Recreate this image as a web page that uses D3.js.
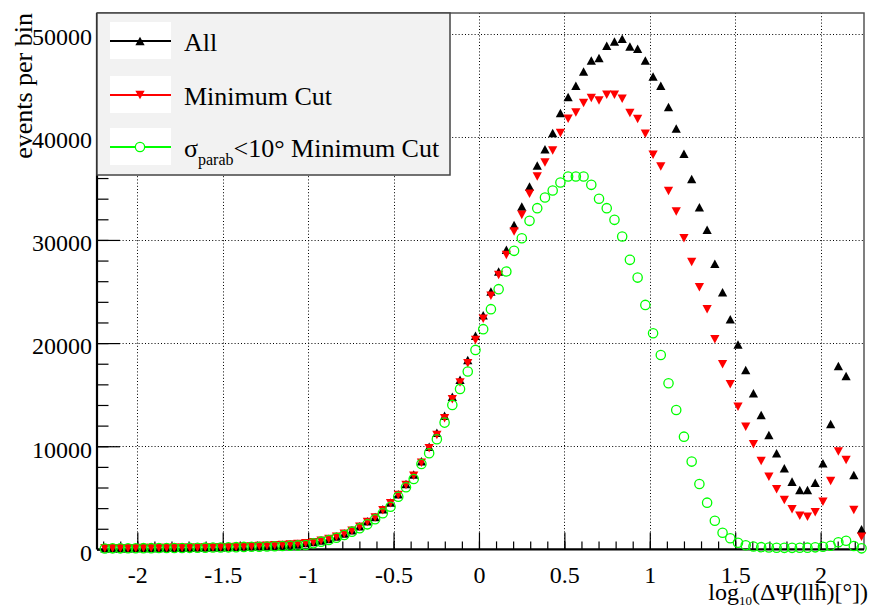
<!DOCTYPE html>
<html>
<head>
<meta charset="utf-8">
<script src="https://cdn.jsdelivr.net/npm/d3@7"></script>
<style>
  body { margin: 0; background: #fff; }
  svg { display: block; }
  text { font-family: "Liberation Serif", "Times New Roman", serif; fill: #000; }
</style>
</head>
<body>
<svg id="chart" width="870" height="607"></svg>
<script>
// Histogram binning of log10(ΔΨ) : first bin centre and bin width
const binFirst = -2.19;
const binWidth = 0.0452;

// events per bin, all events
const allEvents = [
  100, 110, 120, 120, 130, 130, 140, 140, 150, 150,
  160, 170, 180, 190, 200, 210, 230, 250, 270, 300,
  330, 360, 400, 440, 490, 540,
  610, 720, 860, 1020, 1260, 1550, 1850, 2250, 2720, 3150, 3900, 4550, 5350, 6350,
  7250, 8550, 9950, 11300, 12950, 14800, 16450, 18350, 20700,
  22700, 25000, 26940, 29040, 31460, 33240, 35180, 37220, 38800, 40360,
  42300, 43850, 44950, 46330, 47400, 47630, 48830, 49240, 49500, 48760,
  48540, 47400, 45850, 44950, 42880, 40800,
  38350, 35900, 33180, 30980, 27680, 24940, 22320, 19860, 17400, 15140,
  13040, 11100, 9320, 7870, 6570, 5760, 5760, 6470, 8350, 12160,
  17790, 16820, 7220, 1950
];

// events per bin after the minimum cut
const minimumCut = [
  100, 110, 110, 120, 120, 130, 130, 140, 140, 150,
  150, 160, 170, 180, 190, 200, 220, 240, 260, 290,
  320, 350, 390, 430, 480, 530,
  600, 700, 840, 1000, 1230, 1520, 1810, 2200, 2650, 3100, 3800, 4470, 5280, 6250,
  7150, 8410, 9810, 11100, 12720, 14560, 16170, 18050, 20300,
  22350, 24580, 26610, 28550, 30820, 32430, 34470, 36150, 37510, 38670,
  40360, 41750, 42360, 43270, 43750, 43520, 44070, 44070, 43690, 42300,
  41720, 40290, 38250, 37120, 34750, 32760,
  30170, 27850, 25420, 23290, 20380, 17950, 16010, 13840, 11900, 10190,
  8570, 7050, 5830, 4790, 3890, 3270, 3170, 3600, 4630, 6630,
  9480, 8670, 3820, 1230
];

// events per bin, sigma_parab < 10 deg and minimum cut
const parabCut = [
  90, 100, 100, 110, 110, 120, 120, 130, 130, 140,
  140, 150, 160, 170, 180, 190, 200, 220, 240, 260,
  260, 280, 300, 330, 360, 390,
  430, 590, 750, 910, 1130, 1400, 1720, 2050, 2430, 2920, 3500, 4140, 5110, 6020,
  6830, 8280, 9320, 10680, 12290, 14010, 15560, 17240, 19340,
  21350, 23290, 25230, 26940, 28940, 30170, 31850, 33080, 34110, 34790,
  35570, 36150, 36150, 36150, 35340, 33990, 33080, 31950, 30330, 28070,
  26350, 23700, 20960,
  18850, 16110, 13520, 10930, 8510, 6340, 4530, 2780, 1620, 1080,
  650, 400, 280, 220, 180, 160, 150, 150, 160, 170,
  200, 250, 350, 700, 840, 330, 100
];

const xMajorTicks = [-2, -1.5, -1, -0.5, 0, 0.5, 1, 1.5, 2];
const xTickLabels = ["-2", "-1.5", "-1", "-0.5", "0", "0.5", "1", "1.5", "2"];
const yMajorTicks = [0, 10000, 20000, 30000, 40000, 50000];
const yTickLabels = ["0", "10000", "20000", "30000", "40000", "50000"];
const legendLabels = ["All", "Minimum Cut", "σparab<10° Minimum Cut"];

const svg = d3.select("#chart");
const frame = { left: 97, right: 864, top: 13, bottom: 549.4 };

const x = d3.scaleLinear().domain([-2.236, 2.254]).range([frame.left, frame.right]);
const y = d3.scaleLinear().domain([0, 52000]).range([frame.bottom, frame.top]);

// minor tick positions: 5 divisions per major interval
const xMinor = d3.range(-22, 23).map(i => i / 10).filter(v => v >= -2.236 && v <= 2.254);
const yMinor = d3.range(0, 27).map(i => i * 2000);

// grid
const grid = svg.append("g").attr("stroke", "#000").attr("stroke-width", 1)
  .attr("stroke-dasharray", "1,2.2").attr("fill", "none");
grid.selectAll("line.gx").data(xMajorTicks).join("line")
  .attr("x1", d => Math.round(x(d)) + 0.5).attr("x2", d => Math.round(x(d)) + 0.5)
  .attr("y1", frame.top).attr("y2", frame.bottom);
grid.selectAll("line.gy").data(yMajorTicks.filter(d => d > 0)).join("line")
  .attr("y1", d => Math.round(y(d)) + 0.5).attr("y2", d => Math.round(y(d)) + 0.5)
  .attr("x1", frame.left).attr("x2", frame.right);

// top / right frame
svg.append("path")
  .attr("d", `M${frame.left},${frame.top}H${frame.right}V${frame.bottom}`)
  .attr("fill", "none").attr("stroke", "#555").attr("stroke-width", 1.5);

// x axis
const xAxisMinor = d3.axisBottom(x).tickValues(xMinor).tickSize(-8).tickSizeOuter(0).tickFormat("");
const xAxisMajor = d3.axisBottom(x).tickValues(xMajorTicks).tickSize(-17).tickSizeOuter(0)
  .tickPadding(17).tickFormat((d, i) => xTickLabels[i]);
const gxm = svg.append("g").attr("transform", `translate(0,${frame.bottom})`).call(xAxisMinor);
const gx = svg.append("g").attr("transform", `translate(0,${frame.bottom})`).call(xAxisMajor);
[gxm, gx].forEach(g => {
  g.select(".domain").remove();
  g.selectAll(".tick line").attr("stroke", "#000").attr("stroke-width", 1.2);
});
gx.selectAll(".tick text").attr("font-size", 24).attr("fill", "#000")
  .attr("font-family", '"Liberation Serif", serif').attr("dy", "0.71em");

// y axis
const yAxisMinor = d3.axisLeft(y).tickValues(yMinor).tickSize(-11.5).tickSizeOuter(0).tickFormat("");
const yAxisMajor = d3.axisLeft(y).tickValues(yMajorTicks).tickSize(-23).tickSizeOuter(0)
  .tickPadding(5).tickFormat((d, i) => yTickLabels[i]);
const gym = svg.append("g").attr("transform", `translate(${frame.left},0)`).call(yAxisMinor);
const gy = svg.append("g").attr("transform", `translate(${frame.left},0)`).call(yAxisMajor);
[gym, gy].forEach(g => {
  g.select(".domain").remove();
  g.selectAll(".tick line").attr("stroke", "#000").attr("stroke-width", 1.2);
});
gy.selectAll(".tick text").attr("font-size", 24).attr("fill", "#000")
  .attr("font-family", '"Liberation Serif", serif').attr("dy", "0.45em");

// axis lines
svg.append("line").attr("x1", frame.left).attr("x2", frame.right)
  .attr("y1", frame.bottom).attr("y2", frame.bottom).attr("stroke", "#000").attr("stroke-width", 2.2);
svg.append("line").attr("x1", frame.left).attr("x2", frame.left)
  .attr("y1", frame.top).attr("y2", frame.bottom).attr("stroke", "#000").attr("stroke-width", 2.2);

// axis titles
const xTitle = svg.append("text").attr("x", 868).attr("y", 600).attr("text-anchor", "end")
  .attr("font-size", 24);
xTitle.append("tspan").text("log");
xTitle.append("tspan").attr("font-size", 13).attr("dy", 5).text("10");
xTitle.append("tspan").attr("dy", -5).text("(ΔΨ(llh)[°])");

svg.append("text").attr("transform", "translate(32,13) rotate(-90)")
  .attr("text-anchor", "end").attr("font-size", 26).text("events per bin");

// marker shapes
const triUp = { draw(ctx, size) { const w = Math.sqrt(size) * 1.5, h = w * 0.92;
  ctx.moveTo(0, -h / 2); ctx.lineTo(w / 2, h / 2); ctx.lineTo(-w / 2, h / 2); ctx.closePath(); } };
const triDown = { draw(ctx, size) { const w = Math.sqrt(size) * 1.5, h = w * 0.92;
  ctx.moveTo(0, h / 2); ctx.lineTo(w / 2, -h / 2); ctx.lineTo(-w / 2, -h / 2); ctx.closePath(); } };

const series = [
  { values: allEvents, symbol: d3.symbol(triUp, 38), fill: "#000", stroke: "none" },
  { values: minimumCut, symbol: d3.symbol(triDown, 38), fill: "#ff0000", stroke: "none" },
  { values: parabCut, symbol: d3.symbol(d3.symbolCircle, 68), fill: "none", stroke: "#00ff00" }
];

const plot = svg.append("g");
series.forEach(s => {
  plot.append("g").selectAll("path").data(s.values).join("path")
    .attr("transform", (d, i) => `translate(${x(binFirst + i * binWidth)},${y(d)})`)
    .attr("d", s.symbol())
    .attr("fill", s.fill).attr("stroke", s.stroke).attr("stroke-width", 1.3);
});

// legend
const legend = svg.append("g");
legend.append("rect").attr("x", 97).attr("y", 13).attr("width", 353).attr("height", 162)
  .attr("fill", "#f2f2f2").attr("stroke", "#444").attr("stroke-width", 1.5);
const rowY = [41, 95, 147];
series.forEach((s, i) => {
  const g = legend.append("g").attr("transform", `translate(0,${rowY[i]})`);
  g.append("rect").attr("x", 110).attr("y", -19).attr("width", 61).attr("height", 37).attr("fill", "#fff");
  g.append("line").attr("x1", 110).attr("x2", 171).attr("stroke-width", 2.2)
    .attr("stroke", i === 2 ? "#00ff00" : s.fill);
  g.append("path").attr("transform", "translate(140,0)").attr("d", s.symbol())
    .attr("fill", s.fill === "none" ? "#fff" : s.fill).attr("stroke", s.stroke).attr("stroke-width", 1.3);
  const t = g.append("text").attr("x", 184).attr("y", 10).attr("font-size", 26);
  if (i === 2) {
    t.append("tspan").text(legendLabels[2].slice(0, 1));
    t.append("tspan").attr("font-size", 16).attr("dy", 8).text(legendLabels[2].slice(1, 6));
    t.append("tspan").attr("dy", -8).text(legendLabels[2].slice(6));
  } else {
    t.text(legendLabels[i]);
  }
});
</script>
</body>
</html>
